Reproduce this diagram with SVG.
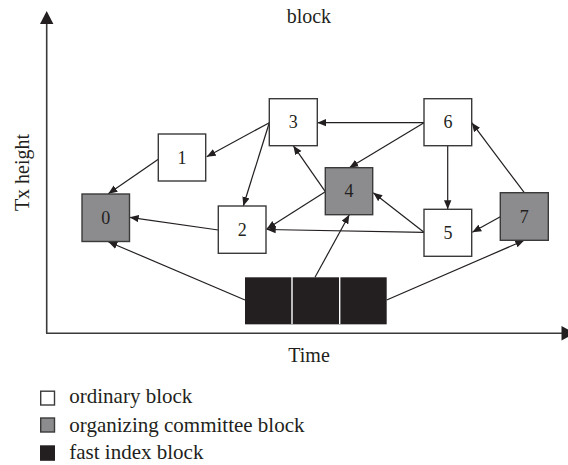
<svg xmlns="http://www.w3.org/2000/svg" width="568" height="465" viewBox="0 0 568 465">
  <style>
    .lbl { font-family: "Liberation Serif", "Times New Roman", serif; fill: #231f20; }
    .num { font-family: "Liberation Serif", "Times New Roman", serif; font-size: 18px; fill: #231f20; text-anchor: middle; }
    .plain { fill: #ffffff; stroke: #3a3a3a; stroke-width: 1.4; }
    .comm { fill: #8c8c8e; stroke: #3a3a3a; stroke-width: 1.4; }
    .fast { fill: #231f20; }
    .edge { fill: none; stroke: #231f20; stroke-width: 1.2; marker-end: url(#head); }
    .axis { fill: none; stroke: #3a3a3a; stroke-width: 1.6; }
  </style>
  <defs>
    <marker id="head" markerUnits="userSpaceOnUse" markerWidth="10" markerHeight="8" refX="9" refY="4" orient="auto">
      <path d="M0,0.3 L9,4 L0,7.7 z" fill="#231f20"/>
    </marker>
  </defs>

  <rect width="568" height="465" fill="#ffffff"/>

  <!-- axes -->
  <g id="axes">
    <line class="axis" x1="46.7" y1="23" x2="46.7" y2="333.3"/>
    <line class="axis" x1="46" y1="333.3" x2="562" y2="333.3"/>
    <polygon points="46.7,11 40,24 53.4,24" fill="#231f20"/>
    <polygon points="561.5,326 561.5,340.6 575,333.3" fill="#231f20"/>
    <text class="lbl" x="286.7" y="22.7" font-size="20">block</text>
    <text class="lbl" x="288.3" y="361.7" font-size="20">Time</text>
    <text class="lbl" font-size="20" text-anchor="middle" transform="translate(28.5,172.5) rotate(-90)">Tx height</text>
  </g>

  <!-- connectors -->
  <g id="connectors">
    <path class="edge" d="M269.3,122.7 L206.7,156.7"/>
    <path class="edge" d="M158.3,159.3 L108.3,193.7"/>
    <path class="edge" d="M269.3,122.7 L243.3,206"/>
    <path class="edge" d="M424,122.7 L317.3,122.7"/>
    <path class="edge" d="M424,122.7 L349.3,167.7"/>
    <path class="edge" d="M447.7,145.7 L447.7,209.3"/>
    <path class="edge" d="M325.3,191.7 L293.3,145.7"/>
    <path class="edge" d="M325.3,191.7 L266.7,229"/>
    <path class="edge" d="M424,232.3 L266.7,229.5"/>
    <path class="edge" d="M424,232.3 L373.3,192.7"/>
    <path class="edge" d="M500.3,216.7 L472.3,232.3"/>
    <path class="edge" d="M524.3,192.7 L471.7,122.7"/>
    <path class="edge" d="M218.3,230 L129.7,217.3"/>
    <path class="edge" d="M245,300 L108.3,241.7"/>
    <path class="edge" d="M315,277.3 L349.3,214.7"/>
    <path class="edge" d="M386.7,300 L524.3,240.3"/>
  </g>

  <!-- blocks -->
  <g id="node-0">
    <rect class="comm" x="82" y="194" width="47.5" height="47.5"/>
    <text class="num" x="105.8" y="223.8">0</text>
  </g>
  <g id="node-1">
    <rect class="plain" x="158.3" y="134" width="47.4" height="47"/>
    <text class="num" x="182" y="163.5">1</text>
  </g>
  <g id="node-2">
    <rect class="plain" x="218.3" y="206" width="47.7" height="47.3"/>
    <text class="num" x="242.2" y="235.7">2</text>
  </g>
  <g id="node-3">
    <rect class="plain" x="269.3" y="98.7" width="48" height="47"/>
    <text class="num" x="293.3" y="128.2">3</text>
  </g>
  <g id="node-4">
    <rect class="comm" x="325.3" y="167.7" width="47.4" height="47"/>
    <text class="num" x="349" y="197.2">4</text>
  </g>
  <g id="node-5">
    <rect class="plain" x="424" y="209.3" width="47.7" height="47"/>
    <text class="num" x="447.9" y="238.8">5</text>
  </g>
  <g id="node-6">
    <rect class="plain" x="424" y="98.7" width="47.7" height="47"/>
    <text class="num" x="447.9" y="128.2">6</text>
  </g>
  <g id="node-7">
    <rect class="comm" x="500.3" y="192.7" width="48" height="47.6"/>
    <text class="num" x="524.3" y="222.5">7</text>
  </g>
  <g id="fast-index">
    <rect class="fast" x="245" y="277.3" width="46.3" height="46.7"/>
    <rect class="fast" x="292.7" y="277.3" width="46.3" height="46.7"/>
    <rect class="fast" x="340.4" y="277.3" width="46.3" height="46.7"/>
    <line x1="245" y1="324.5" x2="386.7" y2="324.5" stroke="#b5b5b5" stroke-width="1"/>
  </g>

  <!-- legend -->
  <g id="legend">
    <rect class="plain" x="40.7" y="391.2" width="13.8" height="13.8" stroke-width="1.2"/>
    <text class="lbl" x="69.3" y="403.3" font-size="21">ordinary block</text>
    <rect class="comm" x="40.7" y="418" width="13.8" height="14" stroke-width="1.2"/>
    <text class="lbl" x="69.3" y="431.5" font-size="21">organizing committee block</text>
    <rect class="fast" x="40" y="445.3" width="15" height="15.5"/>
    <text class="lbl" x="69.3" y="459.3" font-size="21">fast index block</text>
  </g>
</svg>
